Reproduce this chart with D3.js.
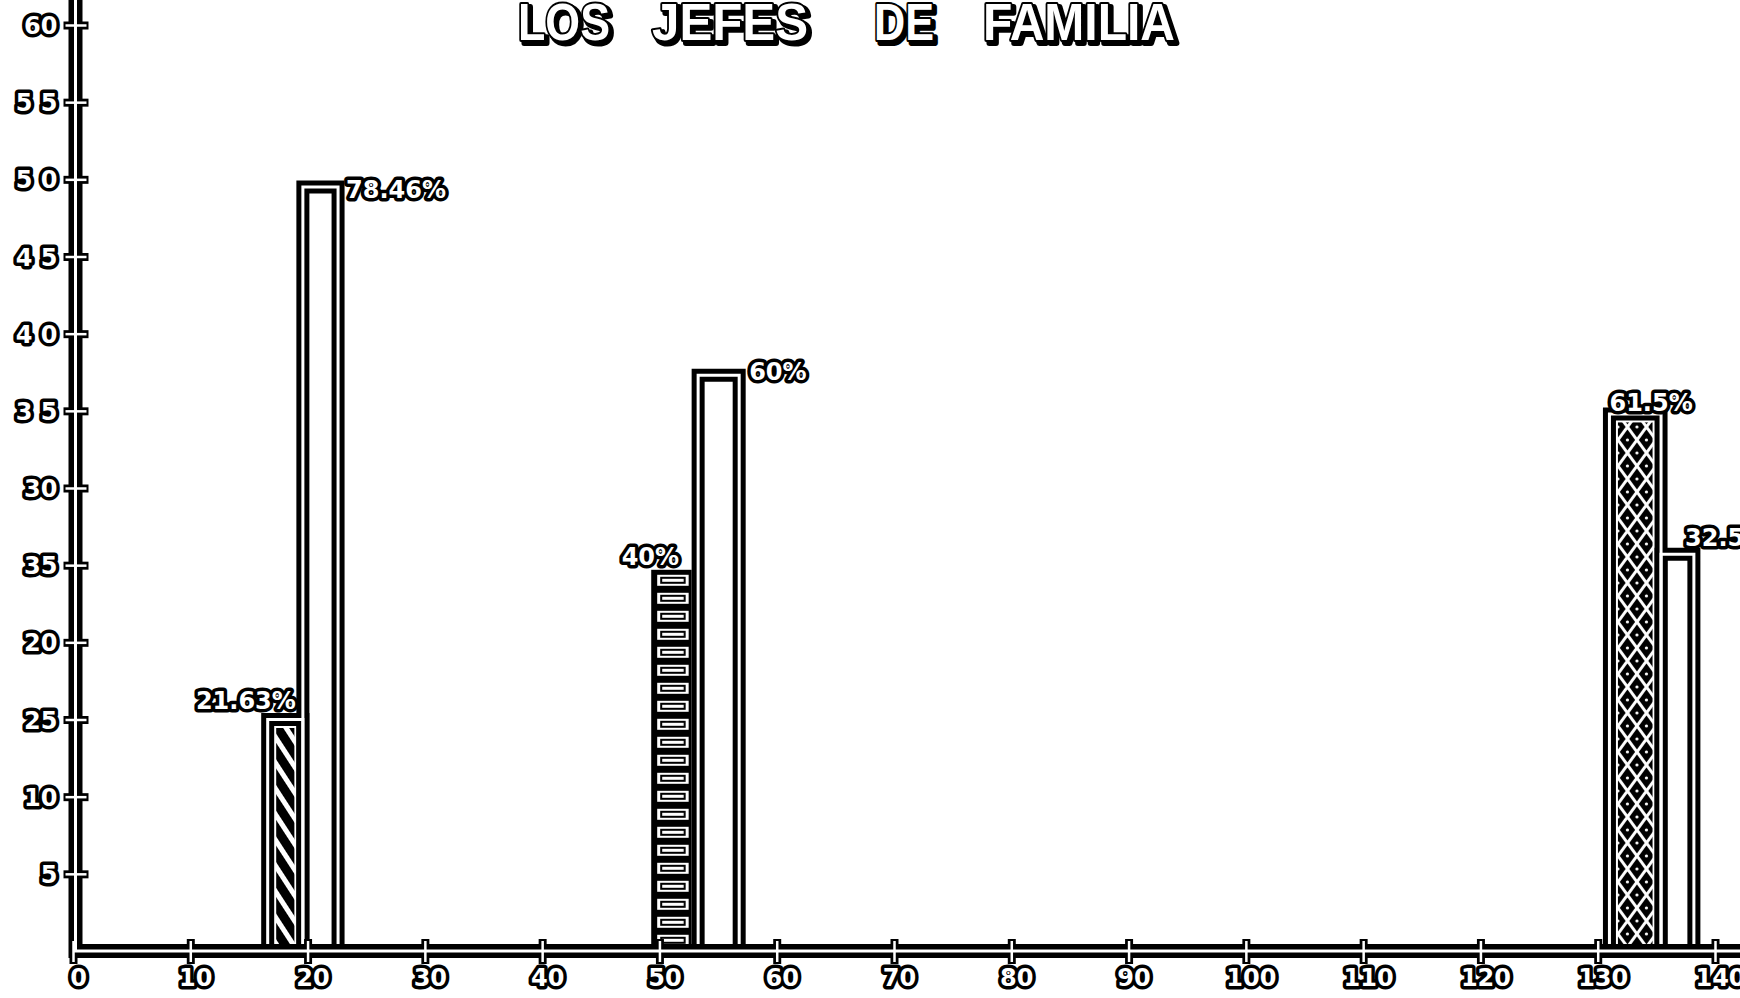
<!DOCTYPE html>
<html>
<head>
<meta charset="utf-8">
<script src="https://cdn.jsdelivr.net/npm/d3@7/dist/d3.min.js"></script>
<style>
  body { margin: 0; background: #fff; }
  svg { display: block; }
</style>
</head>
<body>
<script>
// values
const titleWords = ["LOS", "JEFES", "DE", "FAMILIA"]
const xTicks = [0, 10, 20, 30, 40, 50, 60, 70, 80, 90, 100, 110, 120, 130, 140]
const yTicks = [5, 10, 15, 20, 25, 30, 35, 40, 45, 50, 55, 60]
// labels as they are lettered on the original (some are mis-lettered there)
const yTickText = ["5", "10", "25", "20", "35", "30", "3 5", "4 0", "4 5", "5 0", "5 5", "60"]

// six bars, three pairs: start / end on the x axis, height on the y axis
const barStart = [16.6, 19.6, 49.3, 53.3, 131.0, 135.4]
const barEnd = [19.6, 22.6, 53.3, 56.8, 135.4, 138.2]
const barValue = [15, 49.5, 24.7, 37.3, 34.8, 25.7]
const barLabel = ["21.63%", "78.46%", "40%", "60%", "61.5%", "32.5%"]

const w = 1740
const h = 998

const x = d3.scaleLinear().domain([0, 140]).range([73, 1715])
const y = d3.scaleLinear().domain([0, 60]).range([951, 25])

const svg = d3.select('body')
    .append('svg')
    .attr('width', w)
    .attr('height', h)

svg.append('rect').attr('width', w).attr('height', h).attr('fill', 'white')

const defs = svg.append('defs')

// fill patterns
const diag = defs.append('pattern').attr('id', 'diag')
    .attr('patternUnits', 'userSpaceOnUse')
    .attr('width', 14).attr('height', 14)
    .attr('patternTransform', 'rotate(-33)')
diag.append('rect').attr('width', 14).attr('height', 14).attr('fill', 'white')
diag.append('rect').attr('width', 9).attr('height', 14).attr('fill', 'black')

const cross = defs.append('pattern').attr('id', 'cross')
    .attr('patternUnits', 'userSpaceOnUse')
    .attr('width', 19).attr('height', 26)
    .attr('x', x(barStart[4]) + 8.5)
    .attr('y', y(barValue[4]))
cross.append('rect').attr('width', 19).attr('height', 26).attr('fill', 'black')
cross.append('path')
    .attr('d', 'M-9.5,-13L28.5,39M28.5,-13L-9.5,39')
    .attr('stroke', 'white').attr('stroke-width', 3)
cross.selectAll('circle')
    .data([[9.5, 0], [9.5, 26], [0, 13], [19, 13]])
    .join('circle')
    .attr('cx', d => d[0]).attr('cy', d => d[1]).attr('r', 1.6)
    .attr('fill', 'white')

const barKind = ['diag', 'plain', 'ladder', 'plain', 'cross', 'plain']
const bars = barValue.map((v, i) => ({ v, i, x0: x(barStart[i]), x1: x(barEnd[i]), top: y(v), kind: barKind[i], label: barLabel[i] }))

// ladder pattern, one per ladder bar so the rungs line up with it
bars.filter(b => b.kind === 'ladder').forEach(b => {
    const pw = b.x1 - 6.5 - b.x0
    const p = defs.append('pattern').attr('id', 'ladder' + b.i)
        .attr('patternUnits', 'userSpaceOnUse')
        .attr('x', b.x0).attr('y', b.top)
        .attr('width', pw).attr('height', 18)
    p.append('rect').attr('width', pw).attr('height', 18).attr('fill', 'black')
    p.append('rect').attr('x', 6).attr('y', 5).attr('width', pw - 9).attr('height', 11).attr('fill', 'white')
    p.append('rect').attr('x', 10).attr('y', 8).attr('width', pw - 17).attr('height', 5)
        .attr('fill', 'white').attr('stroke', 'black').attr('stroke-width', 2)
})

const base = y(0)

// pattern fills
const fills = svg.append('g')
bars.filter(b => b.kind !== 'plain').forEach(b => {
    if (b.kind === 'ladder') {
        fills.append('rect')
            .attr('x', b.x0).attr('y', b.top)
            .attr('width', b.x1 - 6.5 - b.x0).attr('height', base - 7 - b.top)
            .attr('fill', `url(#ladder${b.i})`)
    } else {
        fills.append('rect')
            .attr('x', b.x0 + 8.5).attr('y', b.top + 8.5)
            .attr('width', b.x1 - b.x0 - 17).attr('height', base - 7 - b.top - 8.5)
            .attr('fill', `url(#${b.kind})`)
    }
})

// bar walls, drawn as a double line (black with a white core)
const wall = b => `M${b.x0},${base}V${b.top}H${b.x1}V${base}`
const walled = bars.filter(b => b.kind !== 'ladder')
const wallG = svg.append('g').attr('fill', 'none').attr('stroke-linejoin', 'miter')
wallG.selectAll('path.blk').data(walled).join('path').attr('class', 'blk')
    .attr('d', wall).attr('stroke', 'black').attr('stroke-width', 13)
wallG.selectAll('path.wht').data(walled).join('path').attr('class', 'wht')
    .attr('d', wall).attr('stroke', 'white').attr('stroke-width', 3)

// axes
const axX = x(0) + 2.5
const frame = `M${axX},0V${base}H${w}`

svg.append('path').attr('d', frame).attr('fill', 'none')
    .attr('stroke', 'black').attr('stroke-width', 14)

const yAxis = d3.axisLeft(y).tickValues(yTicks).tickFormat((d, i) => yTickText[i]).tickSizeOuter(0)
const xAxis = d3.axisBottom(x).tickValues(xTicks).tickSizeOuter(0)

const gyB = svg.append('g').attr('transform', `translate(${axX},0)`).call(yAxis)
gyB.select('.domain').remove()
gyB.selectAll('text').remove()
gyB.selectAll('.tick line').attr('x1', -12).attr('x2', 13)
    .attr('stroke', 'black').attr('stroke-width', 8)

const gxB = svg.append('g').attr('transform', `translate(0,${base})`).call(xAxis)
gxB.select('.domain').remove()
gxB.selectAll('text').remove()
gxB.selectAll('.tick line').attr('y1', -12).attr('y2', 13)
    .attr('stroke', 'black').attr('stroke-width', 8)

svg.append('path').attr('d', frame).attr('fill', 'none')
    .attr('stroke', 'white').attr('stroke-width', 3)

const halo = sel => sel
    .attr('fill', 'white')
    .attr('stroke', 'black')
    .attr('stroke-width', 7)
    .attr('stroke-linejoin', 'round')
    .attr('paint-order', 'stroke')
    .attr('font-family', '"DejaVu Sans", sans-serif')
    .attr('font-weight', 'bold')
    .attr('font-size', 24)

const gyW = svg.append('g').attr('transform', `translate(${axX},0)`).call(yAxis)
gyW.select('.domain').remove()
gyW.selectAll('.tick line').attr('x1', -10).attr('x2', 11)
    .attr('stroke', 'white').attr('stroke-width', 2.5)
gyW.selectAll('.tick text').attr('x', -18).attr('dy', '0.36em')
    .attr('text-anchor', 'end').call(halo)

const gxW = svg.append('g').attr('transform', `translate(0,${base})`).call(xAxis)
gxW.select('.domain').remove()
gxW.selectAll('.tick line').attr('y1', -10).attr('y2', 11)
    .attr('stroke', 'white').attr('stroke-width', 2.5)
gxW.selectAll('.tick text').attr('y', 26).attr('dy', '0.36em').attr('dx', 5)
    .attr('text-anchor', 'middle').call(halo)

// value labels next to the bar tops
const labelPlace = [
    { side: 'end', at: 'x1', dx: -7, dy: -19 },
    { side: 'start', at: 'x1', dx: 8, dy: 2 },
    { side: 'end', at: 'x1', dx: -19, dy: -13 },
    { side: 'start', at: 'x1', dx: 10, dy: -4 },
    { side: 'start', at: 'x0', dx: 0, dy: -12 },
    { side: 'start', at: 'x0', dx: 24, dy: -17 }
]
svg.append('g').selectAll('text')
    .data(bars)
    .join('text')
    .attr('x', d => d[labelPlace[d.i].at] + labelPlace[d.i].dx)
    .attr('y', d => d.top + labelPlace[d.i].dy)
    .attr('dy', '0.36em')
    .attr('text-anchor', d => labelPlace[d.i].side)
    .text(d => d.label)
    .call(halo)

// title, lettered in outline with a drop shadow
const titleX = [518, 652, 874, 983]
const titleLen = [92, 156, 60, 192]
const tg = svg.append('g')
    .attr('font-family', '"Liberation Sans", Arial, sans-serif')
    .attr('font-weight', 'bold')
    .attr('font-size', 52)
titleWords.forEach((word, i) => {
    tg.append('text')
        .attr('x', titleX[i] + 3).attr('y', 43)
        .attr('textLength', titleLen[i]).attr('lengthAdjust', 'spacingAndGlyphs')
        .attr('fill', 'black').attr('stroke', 'black').attr('stroke-width', 6)
        .attr('stroke-linejoin', 'round')
        .text(word)
    tg.append('text')
        .attr('x', titleX[i]).attr('y', 40)
        .attr('textLength', titleLen[i]).attr('lengthAdjust', 'spacingAndGlyphs')
        .attr('fill', 'white').attr('stroke', 'black').attr('stroke-width', 4)
        .attr('stroke-linejoin', 'round').attr('paint-order', 'stroke')
        .text(word)
})
</script>
</body>
</html>
